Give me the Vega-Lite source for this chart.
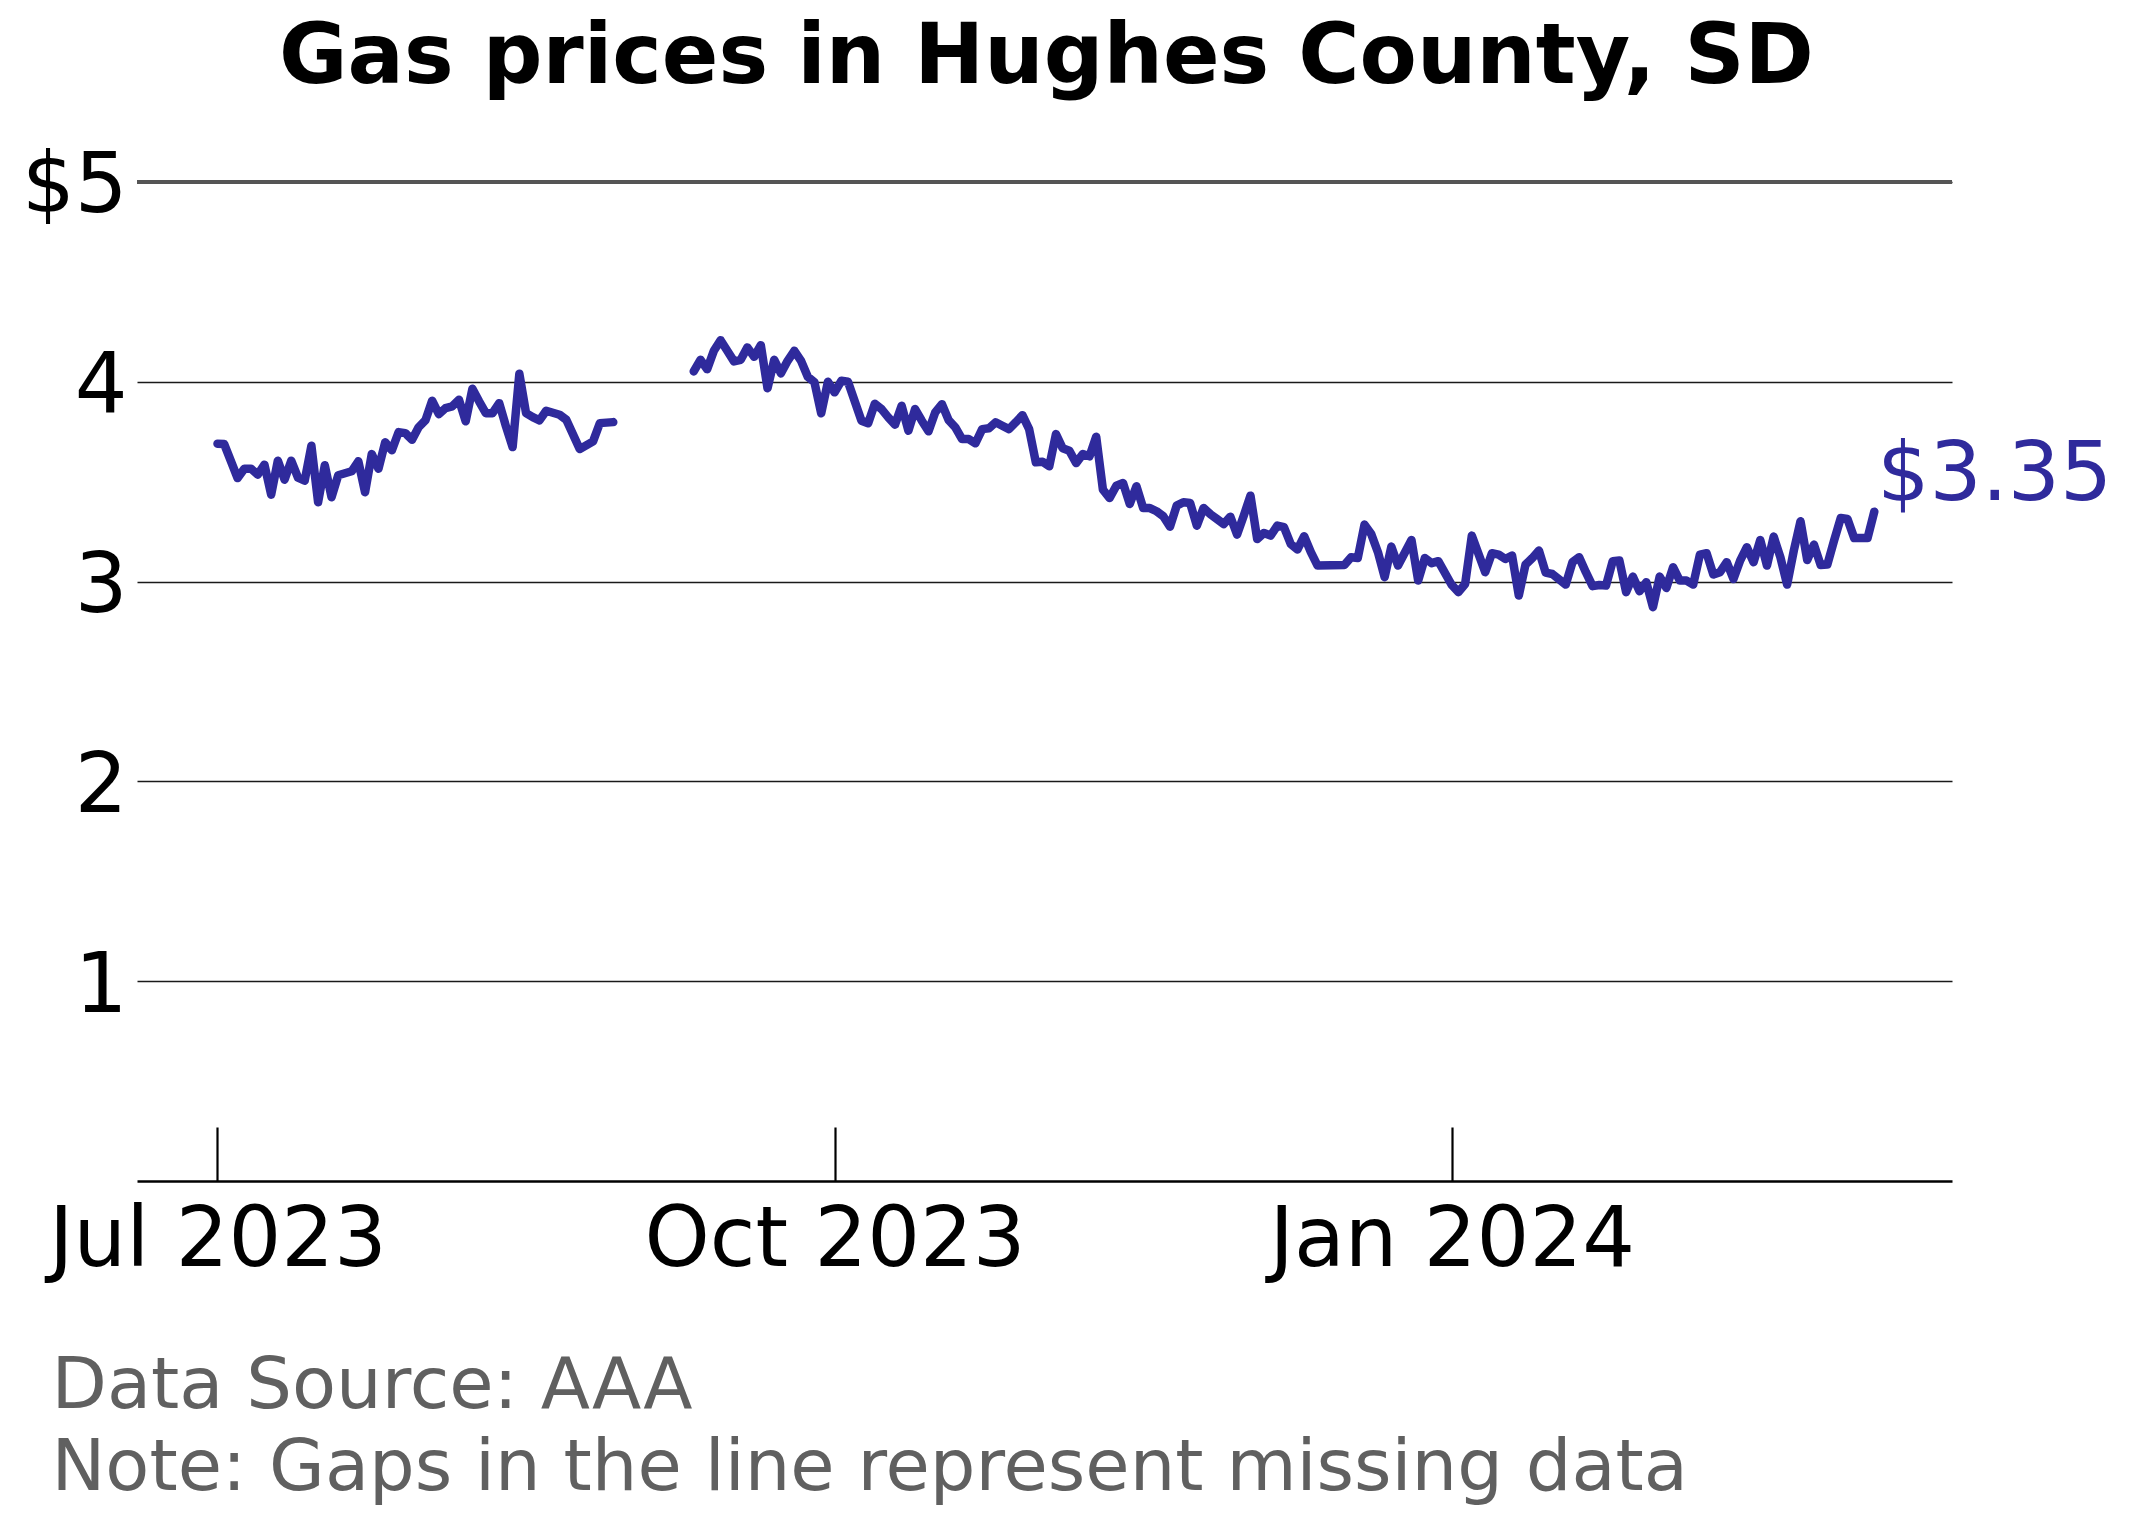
{
  "$schema": "https://vega.github.io/schema/vega-lite/v6.json",
  "autosize": {"type": "none"},
  "padding": {"left": 137, "top": 132, "right": 180, "bottom": 343},
  "width": 1815,
  "height": 1049,
  "background": "white",
  "title": {
    "text": "Gas prices in Hughes County, SD",
    "font": "DejaVu Sans",
    "fontSize": 83.5,
    "fontWeight": "bold",
    "color": "black",
    "anchor": "middle",
    "baseline": "alphabetic",
    "offset": 44,
    "dy": 78,
    "dx": 2
  },
  "config": {
    "view": {"stroke": null},
    "font": "DejaVu Sans"
  },
  "data": {
    "values": [
      {"date": "2023-07-01", "price": 3.69},
      {"date": "2023-07-02", "price": 3.688},
      {"date": "2023-07-04", "price": 3.518},
      {"date": "2023-07-05", "price": 3.565},
      {"date": "2023-07-06", "price": 3.565},
      {"date": "2023-07-07", "price": 3.535},
      {"date": "2023-07-08", "price": 3.585},
      {"date": "2023-07-09", "price": 3.435},
      {"date": "2023-07-10", "price": 3.605},
      {"date": "2023-07-11", "price": 3.51},
      {"date": "2023-07-12", "price": 3.605},
      {"date": "2023-07-13", "price": 3.52},
      {"date": "2023-07-14", "price": 3.505},
      {"date": "2023-07-15", "price": 3.68},
      {"date": "2023-07-16", "price": 3.397},
      {"date": "2023-07-17", "price": 3.582},
      {"date": "2023-07-18", "price": 3.422},
      {"date": "2023-07-19", "price": 3.532},
      {"date": "2023-07-21", "price": 3.552},
      {"date": "2023-07-22", "price": 3.602},
      {"date": "2023-07-23", "price": 3.447},
      {"date": "2023-07-24", "price": 3.638},
      {"date": "2023-07-25", "price": 3.565},
      {"date": "2023-07-26", "price": 3.697},
      {"date": "2023-07-27", "price": 3.657},
      {"date": "2023-07-28", "price": 3.748},
      {"date": "2023-07-29", "price": 3.743},
      {"date": "2023-07-30", "price": 3.71},
      {"date": "2023-07-31", "price": 3.773},
      {"date": "2023-08-01", "price": 3.807},
      {"date": "2023-08-02", "price": 3.905},
      {"date": "2023-08-03", "price": 3.838},
      {"date": "2023-08-04", "price": 3.868},
      {"date": "2023-08-05", "price": 3.877},
      {"date": "2023-08-06", "price": 3.91},
      {"date": "2023-08-07", "price": 3.802},
      {"date": "2023-08-08", "price": 3.965},
      {"date": "2023-08-09", "price": 3.902},
      {"date": "2023-08-10", "price": 3.843},
      {"date": "2023-08-11", "price": 3.843},
      {"date": "2023-08-12", "price": 3.893},
      {"date": "2023-08-13", "price": 3.777},
      {"date": "2023-08-14", "price": 3.673},
      {"date": "2023-08-15", "price": 4.04},
      {"date": "2023-08-16", "price": 3.843},
      {"date": "2023-08-17", "price": 3.823},
      {"date": "2023-08-18", "price": 3.807},
      {"date": "2023-08-19", "price": 3.855},
      {"date": "2023-08-21", "price": 3.835},
      {"date": "2023-08-22", "price": 3.81},
      {"date": "2023-08-24", "price": 3.663},
      {"date": "2023-08-26", "price": 3.702},
      {"date": "2023-08-27", "price": 3.793},
      {"date": "2023-08-29", "price": 3.798},
      {"date": "2023-09-01", "price": null},
      {"date": "2023-09-10", "price": 4.052},
      {"date": "2023-09-11", "price": 4.11},
      {"date": "2023-09-12", "price": 4.063},
      {"date": "2023-09-13", "price": 4.155},
      {"date": "2023-09-14", "price": 4.208},
      {"date": "2023-09-15", "price": 4.155},
      {"date": "2023-09-16", "price": 4.102},
      {"date": "2023-09-17", "price": 4.11},
      {"date": "2023-09-18", "price": 4.172},
      {"date": "2023-09-19", "price": 4.125},
      {"date": "2023-09-20", "price": 4.183},
      {"date": "2023-09-21", "price": 3.967},
      {"date": "2023-09-22", "price": 4.11},
      {"date": "2023-09-23", "price": 4.042},
      {"date": "2023-09-24", "price": 4.105},
      {"date": "2023-09-25", "price": 4.155},
      {"date": "2023-09-26", "price": 4.105},
      {"date": "2023-09-27", "price": 4.025},
      {"date": "2023-09-28", "price": 3.997},
      {"date": "2023-09-29", "price": 3.842},
      {"date": "2023-09-30", "price": 4.0},
      {"date": "2023-10-01", "price": 3.947},
      {"date": "2023-10-02", "price": 4.005},
      {"date": "2023-10-03", "price": 4.0},
      {"date": "2023-10-05", "price": 3.805},
      {"date": "2023-10-06", "price": 3.792},
      {"date": "2023-10-07", "price": 3.89},
      {"date": "2023-10-08", "price": 3.863},
      {"date": "2023-10-09", "price": 3.822},
      {"date": "2023-10-10", "price": 3.785},
      {"date": "2023-10-11", "price": 3.88},
      {"date": "2023-10-12", "price": 3.755},
      {"date": "2023-10-13", "price": 3.863},
      {"date": "2023-10-14", "price": 3.805},
      {"date": "2023-10-15", "price": 3.752},
      {"date": "2023-10-16", "price": 3.847},
      {"date": "2023-10-17", "price": 3.888},
      {"date": "2023-10-18", "price": 3.808},
      {"date": "2023-10-19", "price": 3.772},
      {"date": "2023-10-20", "price": 3.713},
      {"date": "2023-10-21", "price": 3.713},
      {"date": "2023-10-22", "price": 3.692},
      {"date": "2023-10-23", "price": 3.763},
      {"date": "2023-10-24", "price": 3.767},
      {"date": "2023-10-25", "price": 3.797},
      {"date": "2023-10-26", "price": 3.78},
      {"date": "2023-10-27", "price": 3.763},
      {"date": "2023-10-28", "price": 3.797},
      {"date": "2023-10-29", "price": 3.833},
      {"date": "2023-10-30", "price": 3.763},
      {"date": "2023-10-31", "price": 3.597},
      {"date": "2023-11-01", "price": 3.6},
      {"date": "2023-11-02", "price": 3.577},
      {"date": "2023-11-03", "price": 3.738},
      {"date": "2023-11-04", "price": 3.667},
      {"date": "2023-11-05", "price": 3.655},
      {"date": "2023-11-06", "price": 3.593},
      {"date": "2023-11-07", "price": 3.638},
      {"date": "2023-11-08", "price": 3.627},
      {"date": "2023-11-09", "price": 3.725},
      {"date": "2023-11-10", "price": 3.46},
      {"date": "2023-11-11", "price": 3.418},
      {"date": "2023-11-12", "price": 3.48},
      {"date": "2023-11-13", "price": 3.493},
      {"date": "2023-11-14", "price": 3.388},
      {"date": "2023-11-15", "price": 3.477},
      {"date": "2023-11-16", "price": 3.368},
      {"date": "2023-11-17", "price": 3.368},
      {"date": "2023-11-18", "price": 3.352},
      {"date": "2023-11-19", "price": 3.327},
      {"date": "2023-11-20", "price": 3.275},
      {"date": "2023-11-21", "price": 3.38},
      {"date": "2023-11-22", "price": 3.397},
      {"date": "2023-11-23", "price": 3.393},
      {"date": "2023-11-24", "price": 3.28},
      {"date": "2023-11-25", "price": 3.368},
      {"date": "2023-11-26", "price": 3.338},
      {"date": "2023-11-27", "price": 3.313},
      {"date": "2023-11-28", "price": 3.288},
      {"date": "2023-11-29", "price": 3.325},
      {"date": "2023-11-30", "price": 3.235},
      {"date": "2023-12-01", "price": 3.33},
      {"date": "2023-12-02", "price": 3.43},
      {"date": "2023-12-03", "price": 3.213},
      {"date": "2023-12-04", "price": 3.243},
      {"date": "2023-12-05", "price": 3.23},
      {"date": "2023-12-06", "price": 3.28},
      {"date": "2023-12-07", "price": 3.272},
      {"date": "2023-12-08", "price": 3.188},
      {"date": "2023-12-09", "price": 3.16},
      {"date": "2023-12-10", "price": 3.227},
      {"date": "2023-12-11", "price": 3.147},
      {"date": "2023-12-12", "price": 3.08},
      {"date": "2023-12-16", "price": 3.083},
      {"date": "2023-12-17", "price": 3.122},
      {"date": "2023-12-18", "price": 3.118},
      {"date": "2023-12-19", "price": 3.285},
      {"date": "2023-12-20", "price": 3.238},
      {"date": "2023-12-21", "price": 3.147},
      {"date": "2023-12-22", "price": 3.022},
      {"date": "2023-12-23", "price": 3.175},
      {"date": "2023-12-24", "price": 3.08},
      {"date": "2023-12-26", "price": 3.208},
      {"date": "2023-12-27", "price": 3.005},
      {"date": "2023-12-28", "price": 3.118},
      {"date": "2023-12-29", "price": 3.092},
      {"date": "2023-12-30", "price": 3.102},
      {"date": "2024-01-01", "price": 2.983},
      {"date": "2024-01-02", "price": 2.947},
      {"date": "2024-01-03", "price": 2.988},
      {"date": "2024-01-04", "price": 3.23},
      {"date": "2024-01-05", "price": 3.138},
      {"date": "2024-01-06", "price": 3.047},
      {"date": "2024-01-07", "price": 3.142},
      {"date": "2024-01-08", "price": 3.135},
      {"date": "2024-01-09", "price": 3.113},
      {"date": "2024-01-10", "price": 3.13},
      {"date": "2024-01-11", "price": 2.93},
      {"date": "2024-01-12", "price": 3.085},
      {"date": "2024-01-13", "price": 3.117},
      {"date": "2024-01-14", "price": 3.155},
      {"date": "2024-01-15", "price": 3.045},
      {"date": "2024-01-16", "price": 3.038},
      {"date": "2024-01-18", "price": 2.985},
      {"date": "2024-01-19", "price": 3.097},
      {"date": "2024-01-20", "price": 3.122},
      {"date": "2024-01-21", "price": 3.047},
      {"date": "2024-01-22", "price": 2.977},
      {"date": "2024-01-23", "price": 2.983},
      {"date": "2024-01-24", "price": 2.98},
      {"date": "2024-01-25", "price": 3.102},
      {"date": "2024-01-26", "price": 3.105},
      {"date": "2024-01-27", "price": 2.947},
      {"date": "2024-01-28", "price": 3.025},
      {"date": "2024-01-29", "price": 2.952},
      {"date": "2024-01-30", "price": 2.997},
      {"date": "2024-01-31", "price": 2.872},
      {"date": "2024-02-01", "price": 3.025},
      {"date": "2024-02-02", "price": 2.968},
      {"date": "2024-02-03", "price": 3.072},
      {"date": "2024-02-04", "price": 3.005},
      {"date": "2024-02-05", "price": 3.005},
      {"date": "2024-02-06", "price": 2.985},
      {"date": "2024-02-07", "price": 3.135},
      {"date": "2024-02-08", "price": 3.142},
      {"date": "2024-02-09", "price": 3.035},
      {"date": "2024-02-10", "price": 3.047},
      {"date": "2024-02-11", "price": 3.097},
      {"date": "2024-02-12", "price": 3.013},
      {"date": "2024-02-13", "price": 3.105},
      {"date": "2024-02-14", "price": 3.172},
      {"date": "2024-02-15", "price": 3.097},
      {"date": "2024-02-16", "price": 3.208},
      {"date": "2024-02-17", "price": 3.08},
      {"date": "2024-02-18", "price": 3.225},
      {"date": "2024-02-19", "price": 3.122},
      {"date": "2024-02-20", "price": 2.985},
      {"date": "2024-02-21", "price": 3.155},
      {"date": "2024-02-22", "price": 3.302},
      {"date": "2024-02-23", "price": 3.108},
      {"date": "2024-02-24", "price": 3.185},
      {"date": "2024-02-25", "price": 3.083},
      {"date": "2024-02-26", "price": 3.085},
      {"date": "2024-02-27", "price": 3.205},
      {"date": "2024-02-28", "price": 3.318},
      {"date": "2024-02-29", "price": 3.313},
      {"date": "2024-03-01", "price": 3.218},
      {"date": "2024-03-02", "price": 3.218},
      {"date": "2024-03-03", "price": 3.218},
      {"date": "2024-03-04", "price": 3.35}
    ]
  },
  "encoding": {
    "x": {
      "field": "date",
      "type": "temporal",
      "scale": {
        "type": "utc",
        "domain": [
          {"year": 2023, "month": 6, "date": 19, "utc": true},
          {"year": 2024, "month": 3, "date": 15, "hours": 14, "utc": true}
        ]
      },
      "axis": {
        "values": [
          {"year": 2023, "month": 7, "date": 1, "utc": true},
          {"year": 2023, "month": 10, "date": 1, "utc": true},
          {"year": 2024, "month": 1, "date": 1, "utc": true}
        ],
        "format": "%b %Y",
        "grid": false,
        "domainColor": "black",
        "domainWidth": 2.7,
        "tickColor": "black",
        "tickWidth": 2.2,
        "tickSize": -54,
        "labelFont": "DejaVu Sans",
        "labelFontSize": 83,
        "labelColor": "black",
        "labelBaseline": "alphabetic",
        "labelPadding": 138,
        "labelLimit": 0,
        "labelFlush": false,
        "labelOverlap": false,
        "title": ["Data Source: AAA", "Note: Gaps in the line represent missing data"],
        "titleFont": "DejaVu Sans",
        "titleFontSize": 72,
        "titleFontWeight": "normal",
        "titleColor": "#606060",
        "titleLineHeight": 82,
        "titleAnchor": "start",
        "titleAlign": "left",
        "titleBaseline": "alphabetic",
        "titleLimit": 0,
        "titleX": -86,
        "titleY": 226
      }
    },
    "y": {
      "field": "price",
      "type": "quantitative",
      "scale": {"domain": [0, 5.25], "nice": false, "zero": true},
      "axis": {
        "values": [1, 2, 3, 4, 5],
        "labelExpr": "datum.value == 5 ? '$5' : datum.label",
        "domain": false,
        "ticks": false,
        "grid": true,
        "gridColor": "#1a1a1a",
        "gridWidth": 1.3,
        "labelFont": "DejaVu Sans",
        "labelFontSize": 83,
        "labelColor": "black",
        "labelPadding": 10,
        "labelBaseline": "middle",
        "labelOffset": 5,
        "title": null
      }
    }
  },
  "layer": [
    {
      "mark": {"type": "rule", "color": "#555555", "strokeWidth": 2.7},
      "encoding": {"y": {"datum": 5}, "x": {"value": 0}, "x2": {"value": 1815}}
    },
    {
      "mark": {
        "type": "line",
        "color": "#2f2a9c",
        "strokeWidth": 8.5,
        "strokeCap": "round",
        "strokeJoin": "round",
        "invalid": "break-paths-show-domains"
      }
    },
    {
      "transform": [
        {"filter": "datum.price != null"},
        {"aggregate": [{"op": "argmax", "field": "date", "as": "last"}]}
      ],
      "mark": {
        "type": "text",
        "align": "left",
        "baseline": "alphabetic",
        "dx": 3,
        "dy": -12,
        "font": "DejaVu Sans",
        "fontSize": 82,
        "color": "#2f2a9c"
      },
      "encoding": {
        "x": {"field": "last.date", "type": "temporal"},
        "y": {"field": "last.price", "type": "quantitative"},
        "text": {"field": "last.price", "type": "quantitative", "format": "$.2f"}
      }
    }
  ]
}
